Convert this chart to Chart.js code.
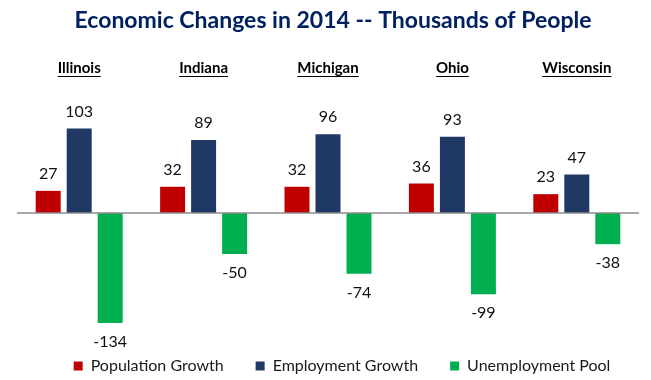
<!DOCTYPE html>
<html lang="en">
<head>
<meta charset="UTF-8">
<script src="https://cdn.jsdelivr.net/npm/chart.js"></script>
<title>Economic Changes in 2014</title>
<style>
  body { margin: 0; background: #fff; }
</style>
</head>
<body>
<div style="width: 651px; height: 380px;">
  <canvas id="grafico"></canvas>
</div>
<script>
const states = ["Illinois", "Indiana", "Michigan", "Ohio", "Wisconsin"]
const populationGrowth = [27, 32, 32, 36, 23]
const employmentGrowth = [103, 89, 96, 93, 47]
const unemploymentPool = [-134, -50, -74, -99, -38]

const fonte = "Lato, 'Open Sans', sans-serif"

// title, state names, zero line and value labels
const extras = {
  id: 'extras',
  afterLayout(chart) {
    // legend sits a bit right and lower in the original
    const lg = chart.legend
    lg.left += 14; lg.right += 14
    lg.top += 8; lg.bottom += 8
  },
  afterDatasetsDraw(chart) {
    const ctx = chart.ctx
    const area = chart.chartArea
    const x = chart.scales.x
    const y = chart.scales.y
    ctx.save()

    const y0 = y.getPixelForValue(0)
    ctx.strokeStyle = '#8c8c8c'
    ctx.lineWidth = 1.5
    ctx.beginPath()
    ctx.moveTo(area.left, y0)
    ctx.lineTo(area.right, y0)
    ctx.stroke()

    ctx.fillStyle = '#002060'
    ctx.font = 'bold 23px ' + fonte
    ctx.textAlign = 'center'
    ctx.textBaseline = 'middle'
    ctx.fillText('Economic Changes in 2014 -- Thousands of People', 333, 21)

    ctx.fillStyle = '#000'
    ctx.strokeStyle = '#000'
    ctx.lineWidth = 1
    ctx.font = 'bold 15px ' + fonte
    states.forEach((s, i) => {
      const cx = x.getPixelForValue(i)
      ctx.fillText(s, cx, 68)
      const w = ctx.measureText(s).width
      ctx.beginPath()
      ctx.moveTo(cx - w / 2, 76.5)
      ctx.lineTo(cx + w / 2, 76.5)
      ctx.stroke()
    })

    ctx.font = '16px ' + fonte
    ctx.fillStyle = '#111'
    chart.data.datasets.forEach((ds, d) => {
      chart.getDatasetMeta(d).data.forEach((bar, i) => {
        const v = ds.data[i]
        const ty = v >= 0 ? bar.y - 17 : bar.y + 19
        ctx.fillText(String(v), bar.x, ty)
      })
    })
    ctx.restore()
  }
}

new Chart(document.getElementById('grafico'), {
  type: 'bar',
  data: {
    labels: states,
    datasets: [
      { label: 'Population Growth', data: populationGrowth, backgroundColor: '#c00000', clip: false },
      { label: 'Employment Growth', data: employmentGrowth, backgroundColor: '#1f3864', clip: false },
      { label: 'Unemployment Pool', data: unemploymentPool, backgroundColor: '#00b050', clip: false }
    ]
  },
  options: {
    responsive: true,
    maintainAspectRatio: false,
    animation: false,
    categoryPercentage: 0.7476,
    barPercentage: 0.806,
    layout: { padding: { left: 17, right: 12, top: 90, bottom: 4 } },
    scales: {
      x: { display: false },
      y: { display: false, min: -128, max: 150 }
    },
    plugins: {
      tooltip: { enabled: false },
      legend: {
        position: 'bottom',
        labels: {
          boxWidth: 9,
          boxHeight: 9,
          padding: 32,
          color: '#1a1a1a',
          font: { family: fonte, size: 16 }
        }
      }
    }
  },
  plugins: [extras]
})
</script>
</body>
</html>
